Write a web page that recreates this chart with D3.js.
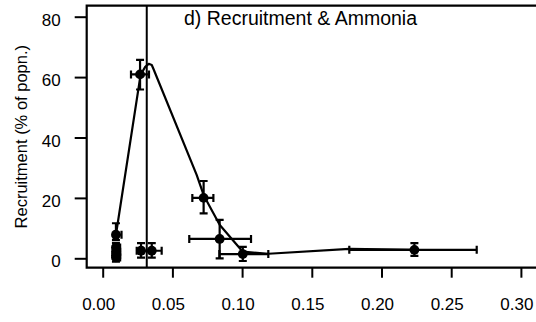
<!DOCTYPE html>
<html>
<head>
<script src="https://d3js.org/d3.v7.min.js"></script>
<style>
  body { margin: 0; background: #fff; }
  text { font-family: "Liberation Sans", Arial, sans-serif; fill: #000; }
</style>
</head>
<body>
<script>
// observed means with error ranges (x = ammonia, y = recruitment %)
const ammonia  = [0.0095, 0.0095, 0.0095, 0.0095, 0.0095, 0.0268, 0.0275, 0.0352, 0.0724, 0.0839, 0.1005, 0.2236]
const recruit  = [7.8, 3.6, 2.2, 1.0, 0.3, 60.9, 2.5, 2.5, 20.0, 6.4, 1.4, 2.8]
const ammLo    = [0.0080, 0.0080, 0.0080, 0.0080, 0.0080, 0.0203, 0.0244, 0.0290, 0.0643, 0.0621, 0.0837, 0.1769]
const ammHi    = [0.0135, 0.0125, 0.0125, 0.0125, 0.0125, 0.0332, 0.0350, 0.0423, 0.0794, 0.1064, 0.1188, 0.2683]
const recLo    = [6.0, 2.4, 1.0, 0.0, -1.1, 55.9, 0.2, 0.2, 14.9, 0.0, -0.9, 0.8]
const recHi    = [11.6, 5.0, 3.4, 2.0, 1.5, 65.7, 5.0, 5.0, 25.6, 12.7, 3.8, 5.0]

// fitted response line
const fitX = [0.0095, 0.0272, 0.0305, 0.0330, 0.0352, 0.0365, 0.0674, 0.0727, 0.0840, 0.1005, 0.1190, 0.1770, 0.2236]
const fitY = [7.8, 60.8, 63.4, 64.4, 64.0, 62.6, 27.6, 20.6, 11.0, 2.2, 1.5, 3.1, 2.8]

const threshold = 0.0316
const xTicks = [0, 0.05, 0.10, 0.15, 0.20, 0.25, 0.30]
const yTicks = [0, 20, 40, 60, 80]

const W = 536, H = 322
const box = { left: 86.7, top: 5.7, bottom: 267.7 }

const svg = d3.select("body").append("svg").attr("width", W).attr("height", H)

const x = d3.scaleLinear().domain([0, 0.30]).range([102.7, 520.9])
const y = d3.scaleLinear().domain([0, 80]).range([258.3, 16.7])

const pts = ammonia.map((a, i) => ({ x: a, y: recruit[i], xl: ammLo[i], xh: ammHi[i], yl: recLo[i], yh: recHi[i] }))

// plot frame (right side runs off the page)
svg.append("path")
  .attr("d", `M${W + 5},${box.top}H${box.left}V${box.bottom}H${W + 5}`)
  .attr("fill", "none").attr("stroke", "#000").attr("stroke-width", 2.2)

// axes
const xAxis = svg.append("g").attr("transform", `translate(0,${box.bottom})`)
  .call(d3.axisBottom(x).tickValues(xTicks).tickFormat(d3.format(".2f")).tickSize(10).tickPadding(20))
xAxis.select(".domain").remove()
xAxis.selectAll("line").attr("stroke-width", 2)
xAxis.selectAll("text").attr("font-size", 17).attr("fill", "#000").attr("dx", -4.5)
  .attr("font-family", "Liberation Sans, Arial, sans-serif")

const yAxis = svg.append("g").attr("transform", `translate(${box.left},0)`)
  .call(d3.axisLeft(y).tickValues(yTicks).tickSize(12).tickPadding(14))
yAxis.select(".domain").remove()
yAxis.selectAll("line").attr("stroke-width", 2)
yAxis.selectAll("text").attr("font-size", 17).attr("fill", "#000").attr("dy", "0.5em")
  .attr("font-family", "Liberation Sans, Arial, sans-serif")

// y label
svg.append("text")
  .attr("transform", `translate(27,${(box.top + box.bottom) / 2}) rotate(-90)`)
  .attr("text-anchor", "middle").attr("font-size", 16.5)
  .text("Recruitment (% of popn.)")

// title
svg.append("text")
  .attr("x", 184).attr("y", 25).attr("font-size", 19.5)
  .text("d) Recruitment & Ammonia")

// threshold line
svg.append("line")
  .attr("x1", x(threshold)).attr("x2", x(threshold))
  .attr("y1", box.top).attr("y2", box.bottom)
  .attr("stroke", "#000").attr("stroke-width", 2)

// fitted line
svg.append("path")
  .datum(fitX.map((v, i) => [v, fitY[i]]))
  .attr("d", d3.line().x(d => x(d[0])).y(d => y(d[1])))
  .attr("fill", "none").attr("stroke", "#000").attr("stroke-width", 2.2).attr("stroke-linejoin", "round")

// error bars
const cap = 4
const eb = svg.append("g").attr("stroke", "#000").attr("stroke-width", 2.2).attr("fill", "none")
pts.forEach(p => {
  const cx = x(p.x), cy = y(p.y)
  eb.append("path").attr("d",
    `M${x(p.xl)},${cy}H${x(p.xh)}` +
    `M${x(p.xl)},${cy - cap}V${cy + cap}M${x(p.xh)},${cy - cap}V${cy + cap}` +
    `M${cx},${y(p.yl)}V${y(p.yh)}` +
    `M${cx - cap},${y(p.yl)}H${cx + cap}M${cx - cap},${y(p.yh)}H${cx + cap}`)
})

// points
svg.selectAll(".pt").data(pts).join("circle")
  .attr("class", "pt")
  .attr("cx", d => x(d.x)).attr("cy", d => y(d.y)).attr("r", 4.9)
  .attr("fill", "#000")
</script>
</body>
</html>
